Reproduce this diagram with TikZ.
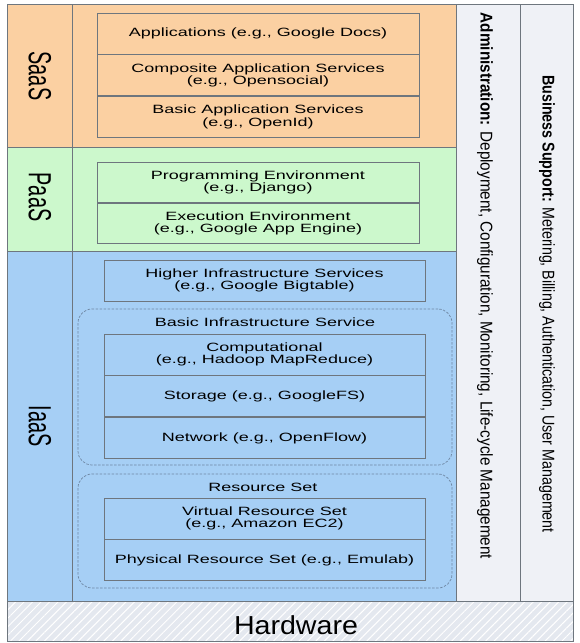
\documentclass[tikz,border=0pt]{standalone}
\usepackage{fontspec}
\setmainfont{Liberation Sans}
\newfontfamily\boxfont[FakeStretch=1.5]{Liberation Sans}
\newfontfamily\tagfont[FakeStretch=0.62]{Liberation Sans}
\newfontfamily\adminfont[FakeStretch=0.9]{Liberation Sans}
\newfontfamily\bizfont[FakeStretch=0.84]{Liberation Sans}
\newfontfamily\hwfont[FakeStretch=1.1]{Liberation Sans}
\usepackage{tikz}
\usetikzlibrary{positioning,patterns.meta}
\definecolor{saas}{HTML}{FBD0A2}
\definecolor{paas}{HTML}{CCF8CC}
\definecolor{iaas}{HTML}{A6CFF5}
\definecolor{side}{HTML}{EFF1F6}
\definecolor{hw}{HTML}{E4E8EF}
\definecolor{edge}{HTML}{6E767E}
\definecolor{grpline}{HTML}{6F88A4}
\tikzset{
    %Define style for service boxes
    svc/.style={
           rectangle,
           draw=edge, line width=0.8pt,
           minimum width=322pt,
           minimum height=41pt,
           inner sep=0pt,
           align=center,
           font=\boxfont\fontsize{12}{12.5}\selectfont},
    %Define style for dashed groups
    grp/.style={
           rectangle,
           rounded corners=14pt,
           draw=grpline, line width=0.7pt,
           dash pattern=on 2.5pt off 1.5pt,
           minimum width=374pt},
    grptitle/.style={
           inner sep=0pt,
           font=\boxfont\fontsize{12}{12.5}\selectfont},
    %Define style for rotated texts
    layername/.style={
           rotate=-90,
           inner sep=0pt,
           font=\tagfont\fontsize{32}{32}\selectfont},
    sidetext/.style={
           rotate=-90,
           inner sep=0pt}
}
\begin{document}
\begin{tikzpicture}[x=1pt,y=-1pt,node distance=0pt]
\useasboundingbox (0,0) rectangle (579,643);
% layers
\filldraw[fill=saas,draw=edge] (7,4) rectangle (456,147);
\filldraw[fill=paas,draw=edge] (7,147) rectangle (456,251);
\filldraw[fill=iaas,draw=edge] (7,251) rectangle (456,601);
\filldraw[fill=side,draw=edge] (456,4) rectangle (520,601);
\filldraw[fill=side,draw=edge] (520,4) rectangle (573,601);
\fill[hw] (7,601) rectangle (573,641);
\fill[pattern={Lines[angle=45,distance=6pt,line width=1pt]},pattern color=white] (7,601) rectangle (573,641);
\draw[edge] (7,601) rectangle (573,641);
\draw[edge] (72,4) -- (72,601);
% layer names
\node[layername] (saasname) at (40,76) {SaaS};
\node[layername] (paasname) at (40,197) {PaaS};
\node[layername] (iaasname) at (40,426) {IaaS};
% SaaS
\node[svc] (apps) at (258,33.5) {Applications (e.g., Google Docs)};
\node[svc, below=of apps] (comp) {Composite Application Services\\(e.g., Opensocial)};
\node[svc, below=of comp] (basicapp) {Basic Application Services\\(e.g., OpenId)};
% PaaS
\node[svc, minimum height=40.5pt] (prog) at (258,182.25) {Programming Environment\\(e.g., Django)};
\node[svc, minimum height=40.5pt, below=of prog] (exec) {Execution Environment\\(e.g., Google App Engine)};
% IaaS
\node[svc, minimum width=321pt] (higher) at (264.5,280.5) {Higher Infrastructure Services\\(e.g., Google Bigtable)};
\node[grp, minimum height=156pt] (binfra) at (265,387) {};
\node[grptitle] (binfratitle) at (265,322) {Basic Infrastructure Service};
\node[svc, minimum width=321pt] (comput) at (264.5,354.5) {Computational\\(e.g., Hadoop MapReduce)};
\node[svc, minimum width=321pt, below=of comput] (storage) {Storage (e.g., GoogleFS)};
\node[svc, minimum width=321pt, below=of storage] (network) {Network (e.g., OpenFlow)};
\node[grp, minimum height=114pt] (rset) at (265,531) {};
\node[grptitle] (rsettitle) at (263,487) {Resource Set};
\node[svc, minimum width=321pt] (virtual) at (264.5,518.5) {Virtual Resource Set\\(e.g., Amazon EC2)};
\node[svc, minimum width=321pt, below=of virtual] (physical) {Physical Resource Set (e.g., Emulab)};
% side columns
\node[sidetext, font=\adminfont\fontsize{17}{17}\selectfont] (admin) at (485,286)
  {\textbf{Administration:} Deployment, Configuration, Monitoring, Life-cycle Management};
\node[sidetext, font=\bizfont\fontsize{17}{17}\selectfont] (business) at (547,304)
  {\textbf{Business Support:} Metering, Billing, Authentication, User Management};
% hardware
\node[anchor=base, font=\hwfont\fontsize{26}{26}\selectfont] (hardware) at (296,634) {Hardware};
\end{tikzpicture}
\end{document}
